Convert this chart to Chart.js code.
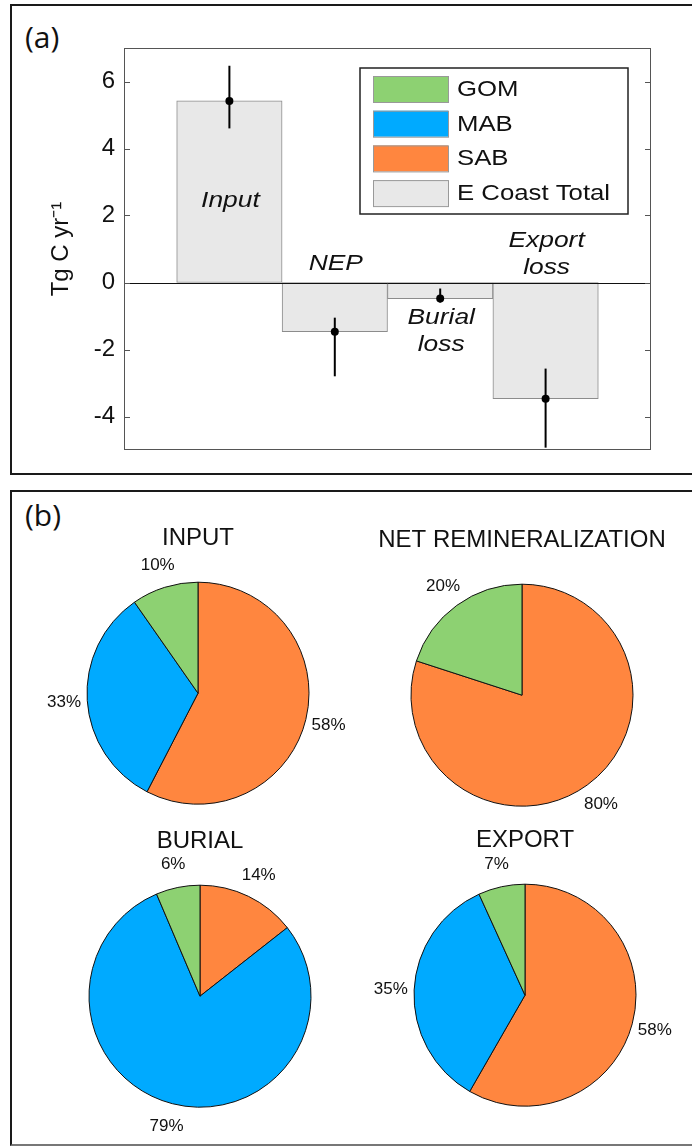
<!DOCTYPE html>
<html>
<head>
<meta charset="utf-8">
<script src="https://cdn.jsdelivr.net/npm/chart.js@4.4.1/dist/chart.umd.min.js"></script>
<style>
  body { margin: 0; width: 692px; height: 1146px; background: #fff; overflow: hidden; position: relative; }
  .panel { position: absolute; border: 2px solid #1a1a1a; box-sizing: border-box; }
  #pa { left: 10px; top: 4px; width: 700px; height: 471px; }
  #pb { left: 10px; top: 490px; width: 700px; height: 656px; border-bottom-color: #777; }
  .tag { position: absolute; font-family: "Open Sans", sans-serif; font-size: 30px; line-height: 30px; color: #111; }
  canvas { position: absolute; }
</style>
</head>
<body>
<div class="panel" id="pa"></div>
<div class="panel" id="pb"></div>
<div class="tag" style="left:25px;top:22px">(a)</div>
<div class="tag" style="left:25px;top:500px">(b)</div>
<canvas id="bars" width="692" height="480" style="left:0;top:0"></canvas>
<canvas id="pie0" width="320" height="330"></canvas>
<canvas id="pie1" width="320" height="330"></canvas>
<canvas id="pie2" width="320" height="330"></canvas>
<canvas id="pie3" width="320" height="330"></canvas>
<script>
// --- panel (a): East Coast totals, Tg C / yr
const categories = ['Input', 'NEP', 'Burial loss', 'Export loss'];
const totals = [5.42, -1.47, -0.48, -3.47];
const errLow = [4.6, -2.8, -0.6, -4.93];
const errHigh = [6.47, -1.05, -0.18, -2.57];
const yTicks = [-4, -2, 0, 2, 4, 6];

// --- panel (b): regional shares, clockwise from 12 o'clock
const sliceOrder = ['SAB', 'MAB', 'GOM'];
const pieTitles = ['INPUT', 'NET REMINERALIZATION', 'BURIAL', 'EXPORT'];
const inputShare = [57.6, 32.7, 9.7];
const netRemShare = [80, 0, 20];
const burialShare = [14.4, 79.2, 6.4];
const exportShare = [58.3, 34.9, 6.8];

const legendNames = ['GOM', 'MAB', 'SAB', 'E Coast Total'];
const colors = { GOM: '#8dd172', MAB: '#00aaff', SAB: '#ff863f', 'E Coast Total': '#e8e8e8' };
const FONT = '"Liberation Sans", Arial, sans-serif';

// bar chart needs an empty slot each side so the axis runs -1..4 in bar units
const barLabels = [''].concat(categories, ['']);
const barData = [null].concat(totals, [null]);

// the original figure's lettering is a bit wide, so stretch canvas text a little
function wideText(ctx, t, x, y, sx) {
  ctx.save();
  ctx.translate(x, y);
  ctx.scale(sx, 1);
  ctx.fillText(t, 0, 0);
  ctx.restore();
}

const framePlugin = {
  id: 'frame',
  afterDatasetsDraw(chart) {
    const { ctx, chartArea: a, scales: { x, y } } = chart;
    ctx.save();
    // zero line
    ctx.strokeStyle = '#111';
    ctx.lineWidth = 1;
    ctx.beginPath();
    ctx.moveTo(a.left, Math.round(y.getPixelForValue(0)) + 0.5);
    ctx.lineTo(a.right, Math.round(y.getPixelForValue(0)) + 0.5);
    ctx.stroke();
    // box + inward ticks
    ctx.strokeStyle = '#555';
    ctx.strokeRect(a.left + 0.5, a.top + 0.5, a.width - 1, a.height - 1);
    yTicks.forEach(v => {
      const py = Math.round(y.getPixelForValue(v)) + 0.5;
      ctx.beginPath();
      ctx.moveTo(a.left, py); ctx.lineTo(a.left + 6, py);
      ctx.moveTo(a.right, py); ctx.lineTo(a.right - 6, py);
      ctx.stroke();
    });
    // error bars
    ctx.strokeStyle = '#000';
    ctx.fillStyle = '#000';
    ctx.lineWidth = 2;
    totals.forEach((v, i) => {
      const px = x.getPixelForValue(i + 1);
      ctx.beginPath();
      ctx.moveTo(px, y.getPixelForValue(errLow[i]));
      ctx.lineTo(px, y.getPixelForValue(errHigh[i]));
      ctx.stroke();
      ctx.beginPath();
      ctx.arc(px, y.getPixelForValue(v), 4, 0, Math.PI * 2);
      ctx.fill();
    });
    // in-plot names
    const namePos = [[2.45], [0.55], [-1.05, -1.85], [1.25, 0.45]];
    ctx.font = 'italic 22px ' + FONT;
    ctx.textAlign = 'center';
    ctx.textBaseline = 'middle';
    ctx.fillStyle = '#111';
    categories.forEach((c, i) => {
      c.split(' ').forEach((t, k) =>
        wideText(ctx, t, x.getPixelForValue(i + 1) + 1, y.getPixelForValue(namePos[i][k]), 1.2));
    });
    // legend
    ctx.lineWidth = 1.5;
    ctx.strokeStyle = '#222';
    ctx.fillStyle = '#fff';
    ctx.fillRect(360, 68, 268, 146);
    ctx.strokeRect(360, 68, 268, 146);
    ctx.font = '22px ' + FONT;
    ctx.textAlign = 'left';
    legendNames.forEach((n, k) => {
      const top = 76 + k * 34.7;
      ctx.fillStyle = colors[n];
      ctx.fillRect(373, top, 75, 26);
      ctx.lineWidth = 1;
      ctx.strokeStyle = '#999';
      ctx.strokeRect(373.5, top + 0.5, 75, 26);
      ctx.fillStyle = '#111';
      wideText(ctx, n, 457, top + 14, 1.17);
    });
    ctx.restore();
  }
};

new Chart(document.getElementById('bars'), {
  type: 'bar',
  data: {
    labels: barLabels,
    datasets: [{
      data: barData,
      backgroundColor: colors['E Coast Total'],
      borderColor: '#8c8c8c',
      borderWidth: 1,
      borderSkipped: false,
      barPercentage: 1,
      categoryPercentage: 1
    }]
  },
  options: {
    responsive: false,
    animation: false,
    layout: { padding: { left: 47, top: 48, right: 41, bottom: 30 } },
    plugins: { legend: { display: false }, tooltip: { enabled: false } },
    scales: {
      x: { type: 'category', offset: false, display: false },
      y: {
        min: -5, max: 7,
        afterFit(s) { s.width = 77; },
        afterBuildTicks(s) { s.ticks = yTicks.map(v => ({ value: v })); },
        grid: { display: false, drawTicks: false },
        border: { display: false },
        ticks: {
          padding: 9, color: '#111',
          font: { size: 24, family: FONT }
        },
        title: {
          display: true, text: 'Tg C yr\u207B\u00B9', color: '#111',
          font: { size: 24, family: FONT }, padding: { top: 0, bottom: 0 }
        }
      }
    }
  },
  plugins: [framePlugin]
});

// percentage labels just outside each wedge
const pctPlugin = {
  id: 'pct',
  afterDatasetsDraw(chart) {
    const { ctx } = chart;
    const data = chart.data.datasets[0].data;
    const sum = data.reduce((s, v) => s + v, 0);
    ctx.save();
    ctx.font = '17px ' + FONT;
    ctx.fillStyle = '#111';
    ctx.textAlign = 'center';
    ctx.textBaseline = 'middle';
    chart.getDatasetMeta(0).data.forEach((arc, i) => {
      if (!data[i]) return;
      const p = arc.getProps(['x', 'y', 'startAngle', 'endAngle', 'outerRadius'], true);
      const mid = (p.startAngle + p.endAngle) / 2;
      const r = p.outerRadius * 1.21;
      ctx.fillText(Math.round(data[i] / sum * 100) + '%', p.x + Math.cos(mid) * r, p.y + Math.sin(mid) * r);
    });
    ctx.restore();
  }
};

const pieShares = [inputShare, netRemShare, burialShare, exportShare];
const pieCenters = [[197.5, 693], [522, 695], [200, 996], [525, 995]];

pieShares.forEach((shares, k) => {
  const cv = document.getElementById('pie' + k);
  cv.style.left = (pieCenters[k][0] - 160) + 'px';
  cv.style.top = (pieCenters[k][1] - 172) + 'px';
  new Chart(cv, {
    type: 'pie',
    data: {
      labels: sliceOrder,
      datasets: [{
        data: shares,
        backgroundColor: sliceOrder.map(r => colors[r]),
        borderColor: '#111',
        borderWidth: 1,
        radius: 111
      }]
    },
    options: {
      responsive: false,
      animation: false,
      layout: { padding: { top: 0, bottom: 30.4, left: 10, right: 10 } },
      plugins: {
        legend: { display: false },
        tooltip: { enabled: false },
        title: {
          display: true, text: pieTitles[k], color: '#111',
          font: { size: 24, family: FONT, weight: 'normal' },
          padding: { top: 3, bottom: 13 }
        }
      }
    },
    plugins: [pctPlugin]
  });
});
</script>
</body>
</html>
